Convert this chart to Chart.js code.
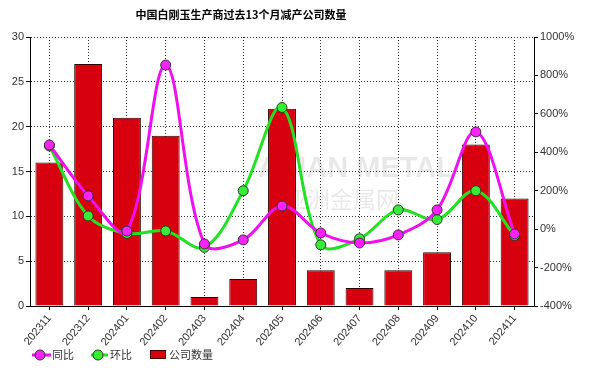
<!DOCTYPE html>
<html><head><meta charset="utf-8">
<script src="https://cdn.jsdelivr.net/npm/chart.js@4"></script>
<style>html,body{margin:0;padding:0;background:#fff}</style>
</head><body>
<canvas id="c" width="604" height="368"></canvas>
<script>
const categories = ['202311','202312','202401','202402','202403','202404','202405','202406','202407','202408','202409','202410','202411'];
const companyCount = [16,27,21,19,1,3,22,4,2,4,6,18,12];
const yoy = [438,173,-10,854,-77,-56,120,-20,-72,-30,100,506,-25];
const mom = [433,68.75,-22.2,-9.5,-94.7,200,633.3,-81.8,-50,100,50,200,-33.3];
const leftTicks = {min:0, max:30, step:5};
const rightTicks = {min:-400, max:1000, step:200};
const titleText = '中国白刚玉生产商过去13个月减产公司数量';
const legendNames = ['同比','环比','公司数量'];
const watermark = ['ASIAN METAL','亚洲金属网'];

const PINK='#ee11ee', PINKP='#ff22ff', GREEN='#22e022', GREENP='#33ee33', RED='#d7000f';
const tickFont = {family:'"Liberation Sans", Arial, sans-serif', size:11};

const extras = {
  id:'extras',
  beforeDatasetsDraw(chart){
    const ctx = chart.ctx;
    ctx.save();
    ctx.fillStyle = 'rgba(0,0,0,0.09)';
    ctx.textBaseline = 'middle'; ctx.textAlign = 'left';
    ctx.font = 'bold 29px "Liberation Sans", Arial, sans-serif';
    ctx.fillText(watermark[0], 258, 169);
    ctx.font = '23px "Noto Sans CJK SC", sans-serif';
    ctx.fillText(watermark[1], 284, 199);
    ctx.restore();
  },
  afterDraw(chart){
    const ctx = chart.ctx;
    ctx.save();
    ctx.fillStyle = '#000';
    ctx.font = 'bold 11px "Noto Sans CJK SC", sans-serif';
    ctx.textAlign = 'center'; ctx.textBaseline = 'middle';
    ctx.fillText(titleText, 241, 15);
    const y = 355;
    ctx.font = '11px "Noto Sans CJK SC", sans-serif';
    ctx.textAlign = 'left';
    const drawItem = (x1,x2,cx,lc,pc,tx,label)=>{
      ctx.strokeStyle = lc; ctx.lineWidth = 3; ctx.setLineDash([]);
      ctx.beginPath(); ctx.moveTo(x1,y); ctx.lineTo(x2,y); ctx.stroke();
      ctx.beginPath(); ctx.arc(cx,y,5,0,Math.PI*2); ctx.fillStyle=pc; ctx.fill();
      ctx.lineWidth=1; ctx.strokeStyle='#333'; ctx.stroke();
      ctx.fillStyle='#333'; ctx.fillText(label, tx, y);
    };
    drawItem(32,51,40,PINK,PINKP,52,legendNames[0]);
    drawItem(91,108,98,GREEN,GREENP,110,legendNames[1]);
    ctx.fillStyle = RED; ctx.fillRect(150,350,15,8);
    ctx.strokeStyle = '#400'; ctx.lineWidth=1; ctx.strokeRect(150.5,350.5,15,8);
    ctx.fillStyle='#333'; ctx.fillText(legendNames[2], 169, y);
    ctx.restore();
  }
};

new Chart(document.getElementById('c'), {
  data: {
    labels: categories,
    datasets: [
      {type:'line', label:legendNames[0], data:yoy, yAxisID:'y1', order:0,
       borderColor:PINK, borderWidth:3, tension:0.35, pointRadius:5, pointHoverRadius:5,
       pointBackgroundColor:PINKP, pointBorderColor:'#333', pointBorderWidth:1},
      {type:'line', label:legendNames[1], data:mom, yAxisID:'y1', order:1,
       borderColor:GREEN, borderWidth:3, tension:0.35, pointRadius:5, pointHoverRadius:5,
       pointBackgroundColor:GREENP, pointBorderColor:'#333', pointBorderWidth:1},
      {type:'bar', label:legendNames[2], data:companyCount, yAxisID:'y', order:2,
       backgroundColor:RED, borderColor:'#2a0000', borderWidth:1,
       barPercentage:0.72, categoryPercentage:1}
    ]
  },
  options: {
    responsive:false, animation:false, devicePixelRatio:1,
    layout:{padding:{top:37,bottom:22,left:0,right:0}},
    plugins:{legend:{display:false}, tooltip:{enabled:false}},
    scales:{
      x:{type:'category', offset:true,
         grid:{offset:false, color:'#333', tickLength:4, tickColor:'#000', drawTicks:true},
         border:{display:true, color:'#000', dash:[1,2]},
         ticks:{minRotation:50, maxRotation:50, font:tickFont, color:'#333', padding:2, autoSkip:false},
         afterFit(s){ s.height = 40; }},
      y:{position:'left', min:leftTicks.min, max:leftTicks.max,
         ticks:{stepSize:leftTicks.step, font:tickFont, color:'#333', padding:2},
         grid:{color:'#333', tickLength:4, tickColor:'#000'},
         border:{display:true, color:'#000', dash:[1,2]},
         afterFit(s){ s.width = 30; }},
      y1:{position:'right', min:rightTicks.min, max:rightTicks.max,
         ticks:{stepSize:rightTicks.step, font:tickFont, color:'#333', padding:2, callback:v=>v+'%'},
         grid:{drawOnChartArea:false, tickLength:4, tickColor:'#000'},
         border:{display:true, color:'#000'},
         afterFit(s){ s.width = 70; }}
    }
  },
  plugins:[extras]
});
</script>
</body></html>
